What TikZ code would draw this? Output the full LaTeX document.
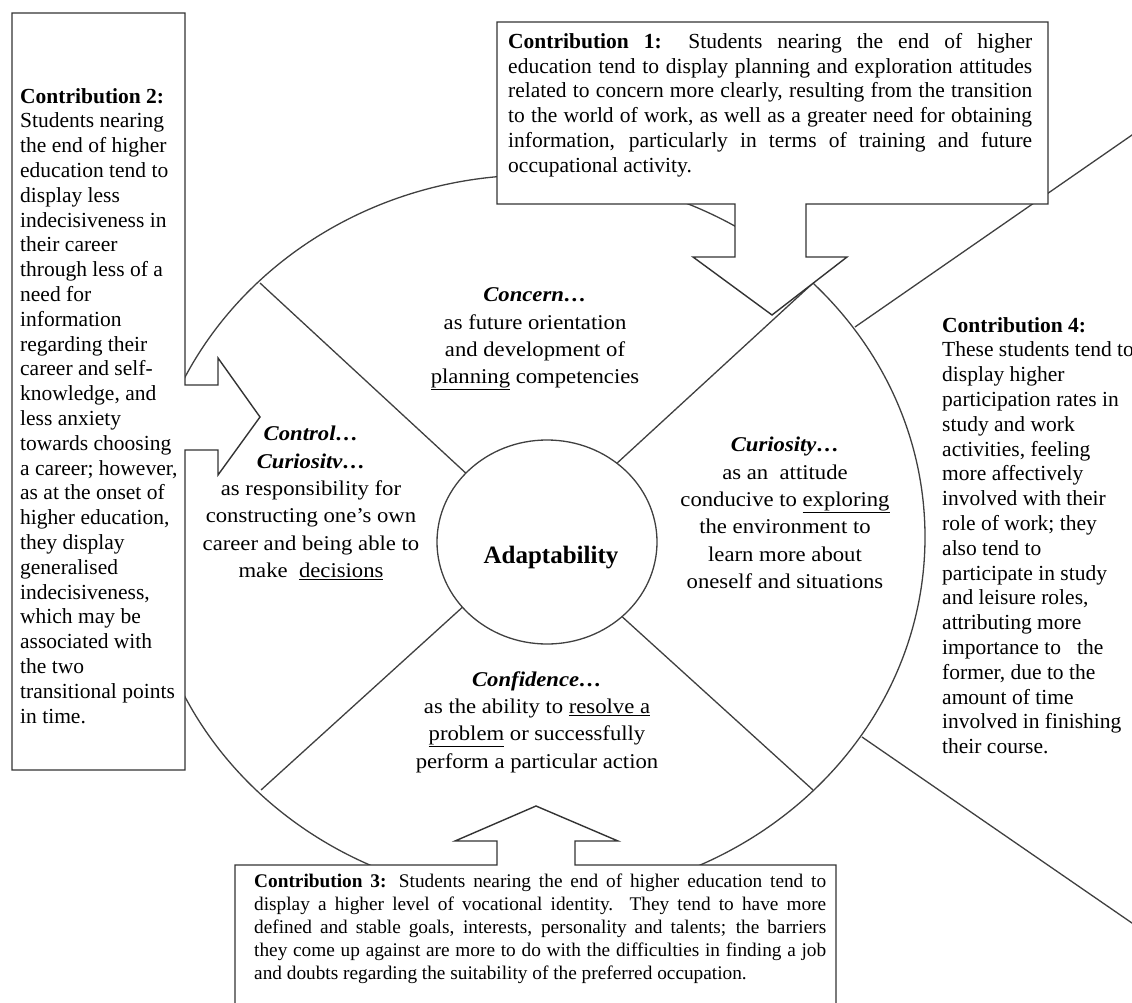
\documentclass[tikz,border=0pt]{standalone}
\usepackage{fontspec}
\setmainfont{Liberation Serif}
\newfontfamily\widefont[FakeStretch=1.08]{Liberation Serif}
\usetikzlibrary{shapes.geometric}
\newcommand{\bodysize}{\fontsize{21.5}{24.8}\selectfont}
\newcommand{\smallbody}{\fontsize{19.3}{23}\selectfont}
\newcommand{\jline}[2][524pt]{\makebox[#1][s]{#2}}
\newcommand{\sechead}[1]{\textbf{\textit{#1…}}}
\tikzset{
    callout/.style = {draw=black!80, line width=1.4pt, fill=white, line join=miter},
    ring/.style = {draw=black!75, line width=1.3pt},
    contrib/.style = {inner sep=0pt, anchor=north west, align=left, font=\bodysize},
    sector/.style = {inner sep=0pt, align=center,
        font=\widefont\fontsize{21}{27.3}\selectfont}
}

\begin{document}
\begin{tikzpicture}[x=1pt, y=-1pt]
    \clip (0,0) rectangle (1132,1003);
    \fill[white] (0,0) rectangle (1132,1003);
    % lines of contribution 4
    \coordinate (c4top) at (855,327);
    \coordinate (c4topend) at (1145,126);
    \coordinate (c4bot) at (862,737);
    \coordinate (c4botend) at (1145,932);
    \draw[ring] (c4top) -- (c4topend);
    \draw[ring] (c4bot) -- (c4botend);
    % outer ring and dividers
    \draw[ring] (535,537) ellipse [x radius=390pt, y radius=362pt];
    \coordinate (ulout) at (260,283);
    \coordinate (ulin) at (470,477);
    \coordinate (urout) at (812,284);
    \coordinate (urin) at (615,465);
    \coordinate (llout) at (261,790);
    \coordinate (llin) at (466,604);
    \coordinate (lrout) at (813,790);
    \coordinate (lrin) at (618,613);
    \draw[ring] (ulin) -- (ulout);
    \draw[ring] (urin) -- (urout);
    \draw[ring] (llin) -- (llout);
    \draw[ring] (lrin) -- (lrout);
    \node[ellipse, ring, fill=white, minimum width=220pt, minimum height=204pt] (adapt) at (547,542) {};
    \node[font=\fontsize{25}{30}\selectfont\bfseries] (adaptlbl) at (551,558) {Adaptability};
    % callouts
    \draw[callout] (497,22) -- (1048,22) -- (1048,204) -- (806,204) -- (806,257) -- (847,257)
        -- (772,315) -- (693,257) -- (735,257) -- (735,204) -- (497,204) -- cycle;
    \draw[callout] (12,13) -- (185,13) -- (185,385) -- (218,385) -- (218,358) -- (260,417)
        -- (218,475) -- (218,450) -- (185,450) -- (185,770) -- (12,770) -- cycle;
    \draw[callout] (235,1015) -- (235,865) -- (497,865) -- (497,841) -- (455,841) -- (536,806)
        -- (618,841) -- (575,841) -- (575,865) -- (836,865) -- (836,1015) -- cycle;
    % contribution texts
    \node[contrib] (c1) at (508,33) {%
        \jline{\textbf{Contribution 1:} Students nearing the end of higher}\\
        \jline{education tend to display planning and exploration attitudes}\\
        \jline{related to concern more clearly, resulting from the transition}\\
        \jline{to the world of work, as well as a greater need for obtaining}\\
        \jline{information, particularly in terms of training and future}\\
        occupational activity.};
    \node[contrib] (c2) at (20,88) {\textbf{Contribution 2:}\\Students nearing\\the end of higher\\
        education tend to\\display less\\indecisiveness in\\their career\\through less of a\\
        need for\\information\\regarding their\\career and self-\\knowledge, and\\less anxiety\\
        towards choosing\\a career; however,\\as at the onset of\\higher education,\\they display\\
        generalised\\indecisiveness,\\which may be\\associated with\\the two\\
        transitional points\\in time.};
    \node[contrib, font=\smallbody] (c3) at (254,874) {%
        \jline[572pt]{\textbf{Contribution 3:} Students nearing the end of higher education tend to}\\
        \jline[572pt]{display a higher level of vocational identity. They tend to have more}\\
        \jline[572pt]{defined and stable goals, interests, personality and talents; the barriers}\\
        \jline[572pt]{they come up against are more to do with the difficulties in finding a job}\\
        and doubts regarding the suitability of the preferred occupation.};
    \node[contrib] (c4) at (942,317) {\textbf{Contribution 4:}\\These students tend to\\
        display higher\\participation rates in\\study and work\\activities, feeling\\
        more affectively\\involved with their\\role of work; they\\also tend to\\
        participate in study\\and leisure roles,\\attributing more\\importance to~~ the\\
        former, due to the\\amount of time\\involved in finishing\\their course.};
    % sector texts
    \node[sector] (concern) at (535,339) {\sechead{Concern}\\as future orientation\\
        and development of\\\underline{planning} competencies};
    \node[sector] (control) at (311,503) {\sechead{Control}\\\sechead{Curiositv}\\
        as responsibility for\\constructing one’s own\\career and being able to\\
        make~ \underline{decisions}};
    \node[sector] (curiosity) at (785,513) {\sechead{Curiosity}\\as an~ attitude\\
        conducive to \underline{exploring}\\the environment to\\learn more about\\
        oneself and situations};
    \node[sector] (confidence) at (537,722) {\sechead{Confidence}\\
        as the ability to \underline{resolve a}\\\underline{problem} or successfully\\
        perform a particular action};
\end{tikzpicture}
\end{document}
